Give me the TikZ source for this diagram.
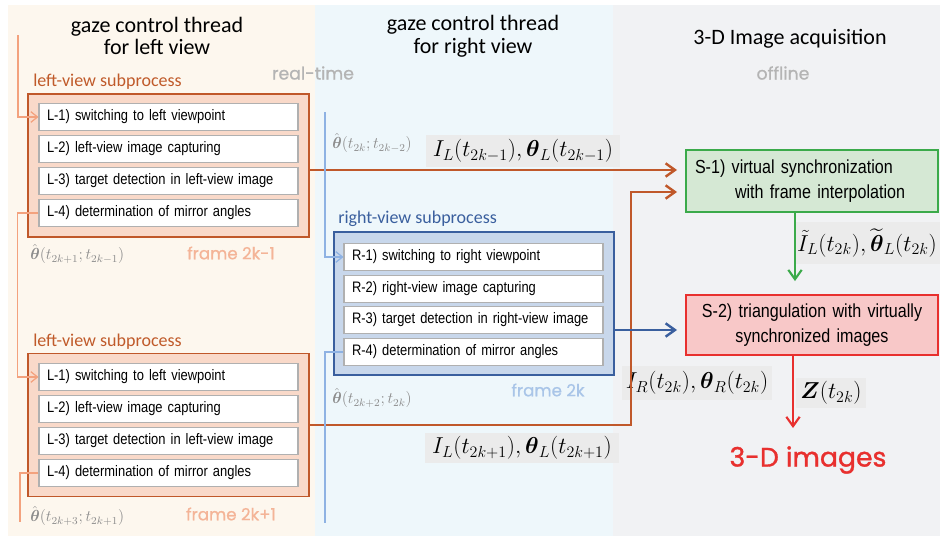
\documentclass[tikz,border=0pt]{standalone}
\usepackage{amsmath}
\usepackage{fontspec}
\usetikzlibrary{arrows.meta,calc}
\newfontfamily\hdfont{Carlito}
\newfontfamily\boxfont[FakeStretch=0.85]{Liberation Sans}
\newfontfamily\rndfont[FakeBold=0.8]{Poppins}
\newfontfamily\rndbold[FakeBold=1.2]{Poppins}
\definecolor{panelL}{HTML}{FDF7EE}
\definecolor{panelM}{HTML}{EEF7FB}
\definecolor{panelR}{HTML}{F1F2F4}
\definecolor{oline}{HTML}{C0582A}
\definecolor{olabel}{HTML}{C05A2A}
\definecolor{ofill}{HTML}{F9D9C9}
\definecolor{olight}{HTML}{F3A27E}
\definecolor{oframe}{HTML}{F4B497}
\definecolor{bline}{HTML}{3A5F9E}
\definecolor{bfill}{HTML}{C8D7EB}
\definecolor{blight}{HTML}{8EB2E3}
\definecolor{bframe}{HTML}{A9C5E8}
\definecolor{gline}{HTML}{3BAA4A}
\definecolor{gfill}{HTML}{D5E8D4}
\definecolor{rline}{HTML}{E8302E}
\definecolor{rfill}{HTML}{F8C8C8}
\definecolor{rowgray}{HTML}{B0B0B0}
\definecolor{mathbg}{HTML}{EBEBEB}
\definecolor{txtgray}{HTML}{B4B4B4}
\definecolor{thgray}{HTML}{8C8C8C}
\begin{document}
\begin{tikzpicture}[x=0.75pt,y=-0.75pt,
  hdr/.style={align=center,inner sep=0pt,font=\hdfont\fontsize{16.5}{17}\selectfont},
  sublab/.style={anchor=west,inner sep=0pt,font=\hdfont\fontsize{13.5}{15}\selectfont},
  modelab/.style={inner sep=0pt,text=txtgray,font=\rndfont\fontsize{13}{15}\selectfont},
  framelab/.style={inner sep=0pt,font=\rndfont\fontsize{12.5}{15}\selectfont},
  rowbox/.style={draw=rowgray,line width=0.8pt,fill=white,minimum height=20.25pt,
    text width=182.25pt,inner xsep=6pt,inner ysep=0pt,align=left,
    font=\boxfont\fontsize{11.4}{13}\selectfont},
  outerL/.style={draw=oline,line width=1.1pt,fill=ofill,minimum width=210.75pt,minimum height=107.25pt},
  outerR/.style={draw=bline,line width=1.1pt,fill=bfill,minimum width=210pt,minimum height=107.25pt},
  sbox/.style={line width=1.4pt,minimum width=189pt,text width=175.5pt,inner xsep=6.75pt,
    font=\boxfont\fontsize{14.2}{18.75}\selectfont},
  mathlab/.style={fill=mathbg,inner sep=0pt,font=\fontsize{16.5}{18}\selectfont},
  thlab/.style={anchor=west,inner sep=0pt,text=thgray,font=\fontsize{11.8}{13}\selectfont},
  oarrow/.style={draw=oline,line width=1.8pt,-{Straight Barb[length=7pt,width=10pt]}},
  barrow/.style={draw=bline,line width=1.8pt,-{Straight Barb[length=7pt,width=10pt]}},
  garrow/.style={draw=gline,line width=1.6pt,-{Straight Barb[length=7pt,width=10pt]}},
  rarrow/.style={draw=rline,line width=1.6pt,-{Straight Barb[length=7pt,width=10pt]}},
  lightO/.style={draw=olight,line width=0.9pt},
  lightOarrow/.style={lightO,-{Straight Barb[length=5pt,width=8pt]}},
  lightB/.style={draw=blight,line width=0.9pt},
  lightBarrow/.style={lightB,-{Straight Barb[length=5pt,width=8pt]}}
]
\useasboundingbox (0,0) rectangle (940,539);
\fill[white] (0,0) rectangle (940,539);
% panels
\fill[panelL] (8,5) rectangle (315,536);
\fill[panelM] (315,5) rectangle (613,536);
\fill[panelR] (613,5) rectangle (940,536);

% headers
\node[hdr] (h1) at (157,36) {gaze control thread\\for left view};
\node[hdr] (h2) at (473,36) {gaze control thread\\for right view};
\node[hdr] (h3) at (790,39) {3-D Image acquisition};
\node[modelab] (rt) at (313,73) {real-time};
\node[modelab] (off) at (783,73) {offline};

% left subprocess 1
\node[sublab,text=olabel] (labL1) at (33,82) {left-view subprocess};
\node[outerL] (boxL1) at (168.5,165.5) {};
\node[rowbox] (L1a) at (168.5,117) {L-1) switching to left viewpoint};
\node[rowbox] (L2a) at (168.5,149) {L-2) left-view image capturing};
\node[rowbox] (L3a) at (168.5,181) {L-3) target detection in left-view image};
\node[rowbox] (L4a) at (168.5,213) {L-4) determination of mirror angles};
\node[thlab] (thL1) at (30,254) {$\hat{\boldsymbol{\theta}}(t_{2k+1};t_{2k-1})$};
\node[framelab,text=oframe] (frL1) at (231,253) {frame 2k-1};

% left subprocess 2
\node[sublab,text=olabel] (labL2) at (33,342) {left-view subprocess};
\node[outerL] (boxL2) at (168.5,425) {};
\node[rowbox] (L1b) at (168.5,377) {L-1) switching to left viewpoint};
\node[rowbox] (L2b) at (168.5,409) {L-2) left-view image capturing};
\node[rowbox] (L3b) at (168.5,441) {L-3) target detection in left-view image};
\node[rowbox] (L4b) at (168.5,473) {L-4) determination of mirror angles};
\node[thlab] (thL2) at (30,516) {$\hat{\boldsymbol{\theta}}(t_{2k+3};t_{2k+1})$};
\node[framelab,text=oframe] (frL2) at (231,514) {frame 2k+1};

% right subprocess
\node[sublab,text=bline] (labR) at (338,219) {right-view subprocess};
\node[outerR] (boxR) at (474,303.5) {};
\node[rowbox] (R1) at (473.5,257) {R-1) switching to right viewpoint};
\node[rowbox] (R2) at (473.5,289) {R-2) right-view image capturing};
\node[rowbox] (R3) at (473.5,320) {R-3) target detection in right-view image};
\node[rowbox] (R4) at (473.5,352) {R-4) determination of mirror angles};
\node[thlab] (thR0) at (332,143) {$\hat{\boldsymbol{\theta}}(t_{2k};t_{2k-2})$};
\node[thlab] (thR1) at (332,398) {$\hat{\boldsymbol{\theta}}(t_{2k+2};t_{2k})$};
\node[framelab,text=bframe] (frR) at (548,390) {frame 2k};

% offline boxes
\node[sbox,draw=gline,fill=gfill,minimum height=46.5pt,align=left] (S1) at (812,181)
  {S-1) virtual synchronization\\\hspace*{30pt}with frame interpolation};
\node[sbox,draw=rline,fill=rfill,minimum height=45pt,align=center] (S2) at (812,325)
  {S-2) triangulation with virtually\\synchronized images};
\node[inner sep=0pt,text=rline,font=\rndbold\fontsize{20}{24}\selectfont] (img) at (808,460) {3-D images};

% math labels
\node[mathlab,minimum width=146pt,minimum height=24pt] (mIL1) at (523,151)
  {$I_L(t_{2k-1}),\boldsymbol{\theta}_L(t_{2k-1})$};
\node[mathlab,minimum width=146pt,minimum height=22pt] (mIL2) at (522,448)
  {$I_L(t_{2k+1}),\boldsymbol{\theta}_L(t_{2k+1})$};
\node[mathlab,minimum width=112pt,minimum height=26pt] (mIR) at (697,383)
  {$I_R(t_{2k}),\boldsymbol{\theta}_R(t_{2k})$};
\node[mathlab,minimum width=109pt,minimum height=32pt] (mIt) at (867,243)
  {$\tilde{I}_L(t_{2k}),\widetilde{\boldsymbol{\theta}}_L(t_{2k})$};
\node[mathlab,minimum width=52pt,minimum height=22pt] (mZ) at (831,393)
  {$\boldsymbol{Z}(t_{2k})$};

% coordinates
\coordinate (S1in1) at (677,170);
\coordinate (S1in2) at (677,192);
\coordinate (S2in) at (677,330);
\coordinate (fbL0) at (18,35);
\coordinate (fbL2) at (20,522);
\coordinate (fbR0) at (325,112);
\coordinate (fbR1) at (325,523);
\coordinate (zend) at (793,428);

% connectors
\draw[oarrow] (boxL1.east |- S1in1) -- (S1in1);
\draw[oarrow] (boxL2.east) -- ++(321,0) |- (S1in2);
\draw[barrow] (boxR.east |- S2in) -- (S2in);
\draw[garrow,shorten >=9.75pt] ([xshift=-12.75pt]S1.south) -- ([xshift=-12.75pt]S2.north);
\draw[rarrow] (S2.south -| zend) -- (zend);

% feedback lines
\draw[lightOarrow] (fbL0) |- (L1a.west);
\draw[lightOarrow] (L4a.west) -- ++(-21,0) |- (L1b.west);
\draw[lightO] (L4b.west) -| (fbL2);
\draw[lightBarrow] (fbR0) |- (R1.west);
\draw[lightB] (R4.west) -| (fbR1);
\end{tikzpicture}
\end{document}
